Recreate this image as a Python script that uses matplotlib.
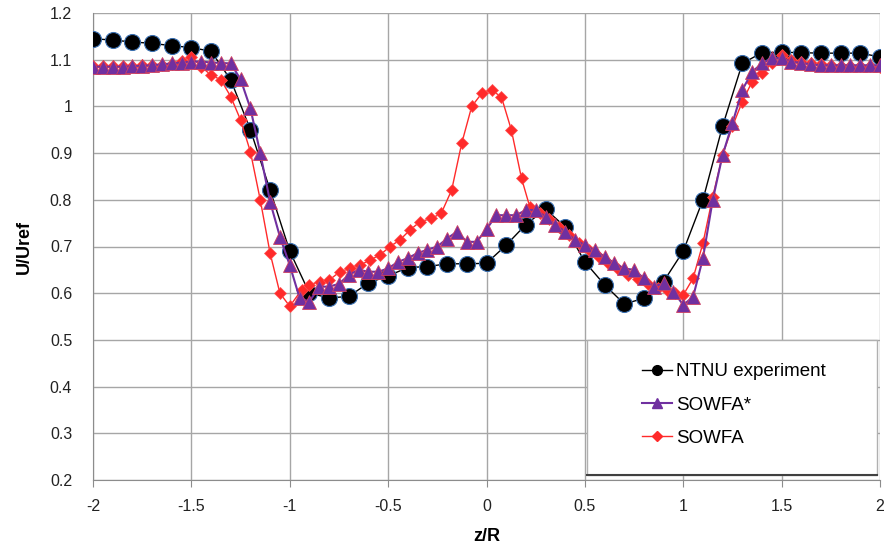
import matplotlib
matplotlib.use("Agg")
import matplotlib.pyplot as plt
from matplotlib.patches import Rectangle
from matplotlib.lines import Line2D

# ---------------- data ----------------
ntnu_z = [-2.0, -1.9, -1.8, -1.7, -1.6, -1.5, -1.4, -1.3, -1.2, -1.1, -1.0,
          -0.9, -0.8, -0.7, -0.6, -0.5, -0.4, -0.3, -0.2, -0.1, 0.0,
          0.1, 0.2, 0.3, 0.4, 0.5, 0.6, 0.7, 0.8, 0.9, 1.0,
          1.1, 1.2, 1.3, 1.4, 1.5, 1.6, 1.7, 1.8, 1.9, 2.0]
ntnu_u = [1.145, 1.142, 1.138, 1.135, 1.130, 1.126, 1.118, 1.057, 0.950, 0.821, 0.690,
          0.600, 0.590, 0.593, 0.622, 0.637, 0.655, 0.657, 0.663, 0.663, 0.664,
          0.703, 0.747, 0.780, 0.742, 0.667, 0.618, 0.577, 0.589, 0.625, 0.690,
          0.800, 0.958, 1.092, 1.115, 1.116, 1.115, 1.114, 1.114, 1.114, 1.106]

sowfa_star_z = [-2.00, -1.95, -1.90, -1.85, -1.80, -1.75, -1.70, -1.65, -1.60, -1.55,
                -1.50, -1.45, -1.40, -1.35, -1.30, -1.25, -1.20, -1.15, -1.10, -1.05,
                -1.00, -0.95, -0.90, -0.85, -0.80, -0.75, -0.70, -0.65, -0.60, -0.55,
                -0.50, -0.45, -0.40, -0.35, -0.30, -0.25, -0.20, -0.15, -0.10, -0.05,
                0.00, 0.05, 0.10, 0.15, 0.20, 0.25, 0.30, 0.35, 0.40, 0.45,
                0.50, 0.55, 0.60, 0.65, 0.70, 0.75, 0.80, 0.85, 0.90, 0.95,
                1.00, 1.05, 1.10, 1.15, 1.20, 1.25, 1.30, 1.35, 1.40, 1.45,
                1.50, 1.55, 1.60, 1.65, 1.70, 1.75, 1.80, 1.85, 1.90, 1.95, 2.00]
sowfa_star_u = [1.085, 1.085, 1.085, 1.085, 1.086, 1.087, 1.088, 1.090, 1.092, 1.094,
                1.096, 1.096, 1.094, 1.093, 1.092, 1.058, 0.996, 0.900, 0.796, 0.721,
                0.660, 0.590, 0.582, 0.614, 0.614, 0.620, 0.639, 0.650, 0.646, 0.646,
                0.653, 0.667, 0.675, 0.686, 0.693, 0.700, 0.717, 0.732, 0.710, 0.710,
                0.737, 0.767, 0.767, 0.767, 0.778, 0.778, 0.764, 0.746, 0.732, 0.714,
                0.703, 0.692, 0.678, 0.664, 0.653, 0.650, 0.632, 0.614, 0.621, 0.603,
                0.575, 0.592, 0.675, 0.800, 0.896, 0.964, 1.035, 1.074, 1.092, 1.103,
                1.103, 1.096, 1.093, 1.090, 1.088, 1.088, 1.088, 1.088, 1.088, 1.088, 1.088]

sowfa_z = [-2.00, -1.95, -1.90, -1.85, -1.80, -1.75, -1.70, -1.65, -1.60, -1.55,
           -1.50, -1.45, -1.40, -1.35, -1.30, -1.25, -1.20, -1.15, -1.10, -1.05,
           -1.00, -0.94, -0.90, -0.846, -0.80, -0.745, -0.694, -0.643, -0.592, -0.541,
           -0.49, -0.44, -0.39, -0.338, -0.28, -0.23, -0.177, -0.126, -0.075, -0.024,
           0.026, 0.076, 0.126, 0.178, 0.22, 0.27, 0.32, 0.37, 0.42, 0.47,
           0.52, 0.57, 0.62, 0.67, 0.72, 0.77, 0.82, 0.87, 0.92, 0.96,
           1.00, 1.05, 1.10, 1.15, 1.20, 1.25, 1.30, 1.35, 1.40, 1.45,
           1.50, 1.55, 1.60, 1.65, 1.70, 1.75, 1.80, 1.85, 1.90, 1.95, 2.00]
sowfa_u = [1.086, 1.086, 1.086, 1.087, 1.087, 1.088, 1.088, 1.089, 1.090, 1.098,
           1.106, 1.085, 1.067, 1.057, 1.021, 0.971, 0.903, 0.800, 0.686, 0.600,
           0.572, 0.607, 0.618, 0.625, 0.628, 0.646, 0.653, 0.660, 0.671, 0.682,
           0.700, 0.714, 0.735, 0.753, 0.760, 0.771, 0.821, 0.921, 1.000, 1.028,
           1.035, 1.020, 0.950, 0.846, 0.785, 0.772, 0.758, 0.742, 0.725, 0.708,
           0.692, 0.678, 0.664, 0.652, 0.640, 0.630, 0.620, 0.612, 0.605, 0.600,
           0.596, 0.632, 0.707, 0.807, 0.896, 0.957, 1.010, 1.053, 1.071, 1.092,
           1.110, 1.100, 1.095, 1.092, 1.090, 1.088, 1.087, 1.086, 1.086, 1.086, 1.085]

labels = ["NTNU experiment", "SOWFA*", "SOWFA"]
x_ticks = [-2, -1.5, -1, -0.5, 0, 0.5, 1, 1.5, 2]
x_tick_labels = ["-2", "-1.5", "-1", "-0.5", "0", "0.5", "1", "1.5", "2"]
y_ticks = [0.2, 0.3, 0.4, 0.5, 0.6, 0.7, 0.8, 0.9, 1.0, 1.1, 1.2]
y_tick_labels = ["0.2", "0.3", "0.4", "0.5", "0.6", "0.7", "0.8", "0.9", "1", "1.1", "1.2"]

# ---------------- plot ----------------
plt.rcParams['font.family'] = ['Liberation Sans', 'DejaVu Sans']
W, H = 891, 554
fig = plt.figure(figsize=(W / 100, H / 100), dpi=100)
ax = fig.add_axes([93 / W, 1 - 480 / H, (880 - 93) / W, (480 - 13) / H])

purple = "#7030A0"
red = "#FF2A2A"

ax.plot(ntnu_z, ntnu_u, color="black", lw=1.0, marker="o", ms=11.5,
        mfc="black", mec="#3A6FB0", mew=0.8, zorder=3)
ax.plot(sowfa_z, sowfa_u, color=red, lw=1.0, marker="D", ms=6,
        mfc=red, mec="#FF5050", mew=0.5, zorder=4)
ax.plot(sowfa_star_z, sowfa_star_u, color=purple, lw=1.5, marker="^", ms=10,
        mfc=purple, mec="#D04060", mew=0.6, zorder=5)

ax.set_xlim(-2, 2)
ax.set_ylim(0.2, 1.2)
ax.set_xticks(x_ticks)
ax.set_xticklabels(x_tick_labels)
ax.set_yticks(y_ticks)
ax.set_yticklabels(y_tick_labels)
ax.grid(True, color="#A6A6A6", lw=1.0, zorder=0)
ax.set_axisbelow(True)
for s in ["top", "right"]:
    ax.spines[s].set_visible(False)
ax.spines["left"].set_color("#8C8C8C")
ax.spines["bottom"].set_color("#8C8C8C")
ax.tick_params(axis="both", labelsize=11.5, labelcolor="#222222")
ax.tick_params(axis="x", length=5, color="#8C8C8C", direction="out", pad=9)
ax.tick_params(axis="y", length=0, pad=15)

ax.set_xlabel("z/R", fontsize=13, fontweight="bold", labelpad=10)
ax.set_ylabel("U/Uref", fontsize=13, fontweight="bold", labelpad=12)

# legend box
x0 = (587 - 93) / 787
y0 = (480 - 475) / 467
bw = (877 - 587) / 787
bh = (475 - 340) / 467
ax.add_patch(Rectangle((x0, y0), bw, bh, transform=ax.transAxes, facecolor="white",
                       edgecolor="#B0B0B0", lw=1.0, zorder=10, clip_on=False))
ax.add_line(Line2D([x0, x0 + bw], [y0, y0], transform=ax.transAxes, color="#404040",
                   lw=1.5, zorder=11, clip_on=False))

handles = [
    Line2D([], [], color="black", lw=1.0, marker="o", ms=7, mfc="black", mec="black"),
    Line2D([], [], color=purple, lw=1.5, marker="^", ms=7, mfc=purple, mec=purple),
    Line2D([], [], color=red, lw=1.0, marker="D", ms=5, mfc=red, mec=red),
]
leg = ax.legend(handles, labels, loc="center left",
                bbox_to_anchor=((633 - 93) / 787, (480 - 405) / 467),
                frameon=False, fontsize=13.5, handlelength=1.6, handletextpad=0.2,
                labelspacing=0.85, borderpad=0)
leg.set_zorder(12)

fig.savefig("out.png", dpi=100)
